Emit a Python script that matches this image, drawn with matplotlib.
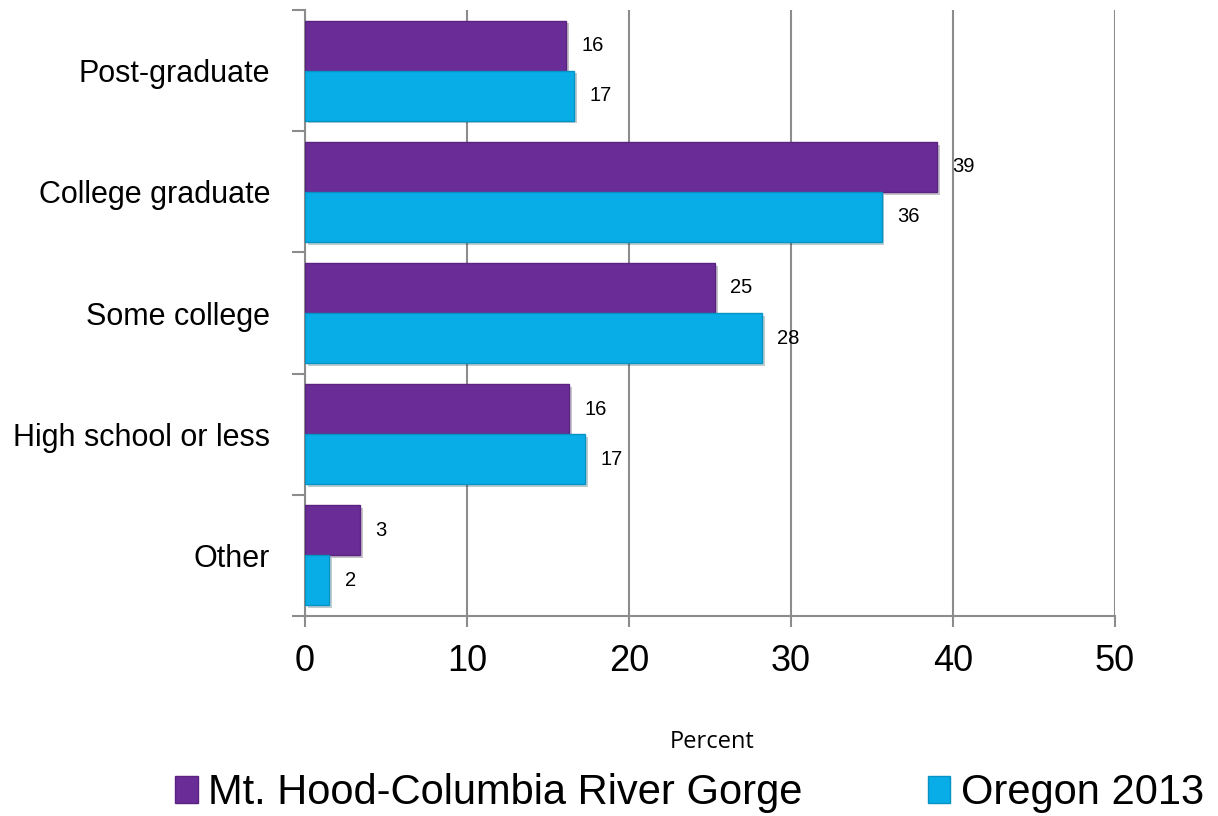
import matplotlib.pyplot as plt
import matplotlib.patheffects as pe
from matplotlib.patches import Patch
import numpy as np

categories = ["Post-graduate", "College graduate", "Some college", "High school or less", "Other"]
mt_hood = [16.1, 39.0, 25.3, 16.3, 3.4]
oregon = [16.6, 35.6, 28.2, 17.3, 1.5]
series_names = ["Mt. Hood-Columbia River Gorge", "Oregon 2013"]
x_ticks = [0, 10, 20, 30, 40, 50]

purple = "#6a2c96"
blue = "#08ade8"
grid_gray = "#8c8c8c"

plt.rcParams['font.family'] = ['Liberation Sans', 'DejaVu Sans']

fig = plt.figure(figsize=(12.18, 8.16), dpi=100)
ax = fig.add_axes([0.2504, 0.2451, 0.6650, 0.7426])

n = len(categories)
y = np.arange(n)[::-1]  # top category first
h = 0.413

shadow = [pe.SimplePatchShadow(offset=(2, -2), alpha=0.25), pe.Normal()]

b1 = ax.barh(y + h / 2, mt_hood, height=h, color=purple, edgecolor="#5a2381",
             linewidth=1.0, zorder=3)
b2 = ax.barh(y - h / 2, oregon, height=h, color=blue, edgecolor="#0792c4",
             linewidth=1.0, zorder=3)
for bars in (b1, b2):
    for p in bars:
        p.set_path_effects(shadow)

for bars, vals in ((b1, mt_hood), (b2, oregon)):
    for p, v in zip(bars, vals):
        ax.annotate("%.0f" % v, xy=(v, p.get_y() + p.get_height() / 2),
                    xytext=(11, 0), textcoords="offset points",
                    ha="left", va="center", fontsize=14.5, color="black", zorder=5)

ax.set_xlim(0, 50)
ax.set_ylim(-0.5, n - 0.5)
ax.set_xticks(x_ticks)
ax.tick_params(axis="x", labelsize=26, length=8, width=1.5, color=grid_gray, pad=12)
ax.xaxis.grid(True, color=grid_gray, linewidth=1.5, zorder=0)

# category boundaries as major ticks, labels on minor ticks
ax.set_yticks(np.arange(n + 1) - 0.5)
ax.set_yticklabels([])
ax.set_yticks(y, minor=True)
ax.set_yticklabels(categories, minor=True)
ax.tick_params(axis="y", which="major", length=9.5, width=1.5, color=grid_gray)
ax.tick_params(axis="y", which="minor", length=0, labelsize=22, pad=25)

for s in ("top", "right"):
    ax.spines[s].set_visible(False)
for s in ("left", "bottom"):
    ax.spines[s].set_color(grid_gray)
    ax.spines[s].set_linewidth(1.5)
ax.set_axisbelow(True)

fig.text(712 / 1218, 1 - 742 / 816, "Percent", ha="center", va="center",
         fontsize=17, family=["Open Sans", "DejaVu Sans"])

handles = [Patch(facecolor=purple, edgecolor="#5a2381"),
           Patch(facecolor=blue, edgecolor="#0792c4")]
fig.legend(handles, series_names, loc="center", bbox_to_anchor=(0.566, 1 - 793 / 816),
           ncol=2, frameon=False, fontsize=30, handlelength=0.55, handleheight=0.6,
           handletextpad=0.25, columnspacing=3.0, borderpad=0)

fig.savefig("out.png", dpi=100)
